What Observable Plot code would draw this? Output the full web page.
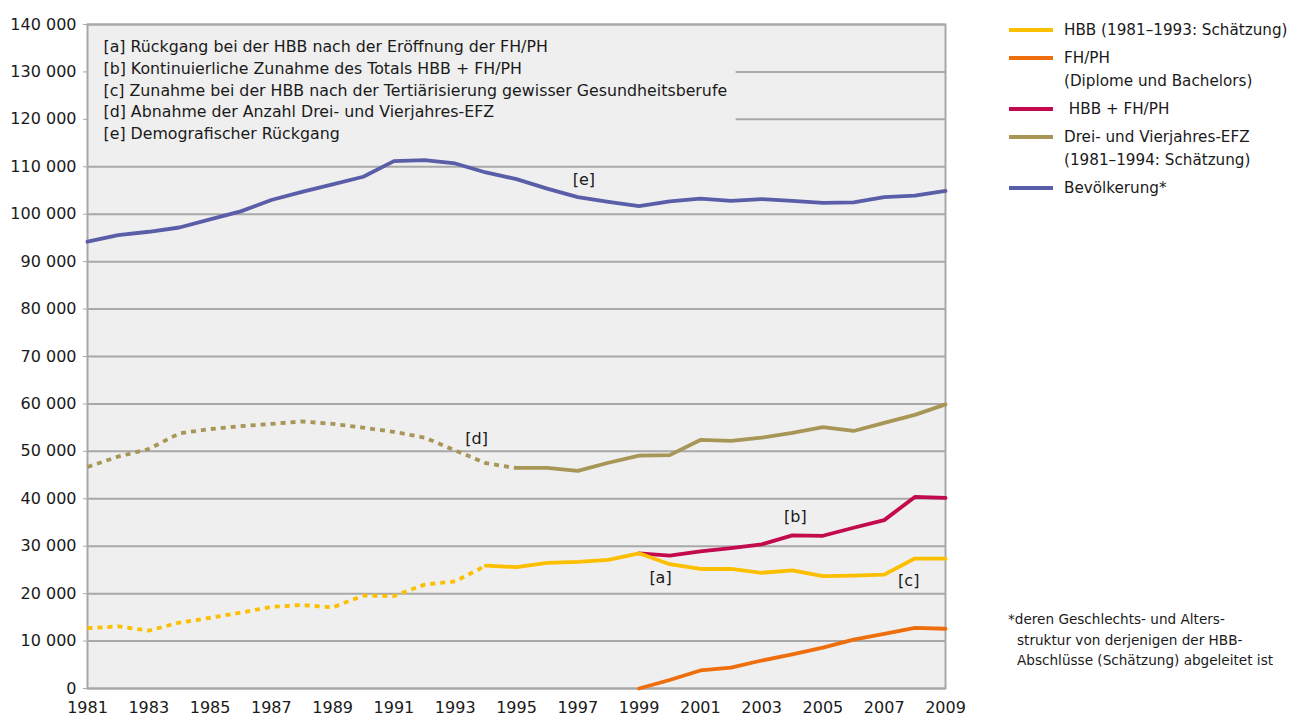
<!DOCTYPE html>
<html>
<head>
<meta charset="utf-8">
<script src="https://cdn.jsdelivr.net/npm/d3@7"></script>
<script src="https://cdn.jsdelivr.net/npm/@observablehq/plot@0.6"></script>
<style>
  html, body { margin: 0; padding: 0; background: #fff; }
  body { font-family: "DejaVu Sans", sans-serif; color: #1a1a1a; }
  #wrap { position: relative; width: 1304px; height: 720px; }
  #legend { position: absolute; left: 1009px; top: 19px; font-size: 15.2px; line-height: 23px; }
  .row { position: relative; padding-left: 55px; margin-bottom: 5px; white-space: nowrap; }
  .sw { position: absolute; left: 0; top: 9px; width: 44px; height: 4px; }
  #note { position: absolute; left: 1008px; top: 609px; font-size: 13.6px; line-height: 20.5px; white-space: nowrap; }
  #note .l { padding-left: 9px; }
</style>
</head>
<body>
<div id="wrap">
  <div id="chart"></div>
  <div id="legend"></div>
  <div id="note">*deren Geschlechts- und Alters-<div class="l">struktur von derjenigen der HBB-</div><div class="l">Abschlüsse (Schätzung) abgeleitet ist</div></div>
</div>
<script>
// ---- data ----
const years = [1981,1982,1983,1984,1985,1986,1987,1988,1989,1990,1991,1992,1993,1994,1995,1996,1997,1998,1999,2000,2001,2002,2003,2004,2005,2006,2007,2008,2009];
const hbb   = [12700,13100,12200,13900,14900,16000,17200,17600,17100,19600,19500,21900,22600,25900,25600,26500,26700,27100,28500,26200,25200,25200,24400,24900,23700,23800,24000,27400,27400];
const fhph  = [null,null,null,null,null,null,null,null,null,null,null,null,null,null,null,null,null,null,0,1800,3800,4400,5900,7200,8600,10300,11500,12800,12600];
const total = [null,null,null,null,null,null,null,null,null,null,null,null,null,null,null,null,null,null,28500,28000,28900,29600,30400,32300,32200,33900,35500,40400,40200];
const efz   = [46700,48900,50500,53800,54700,55300,55800,56300,55800,55000,54100,52900,50200,47500,46500,46500,45900,47600,49100,49200,52400,52200,52900,53900,55100,54300,56000,57700,59900];
const pop   = [94200,95600,96300,97200,98900,100600,103000,104700,106300,107900,111200,111400,110700,108800,107400,105400,103600,102600,101700,102700,103300,102800,103200,102800,102400,102500,103600,103900,104900];

const hbbEstimateEnd = 1994;
const efzEstimateEnd = 1995;

const seriesNames = ["HBB (1981–1993: Schätzung)", "FH/PH\n(Diplome und Bachelors)", " HBB + FH/PH", "Drei- und Vierjahres-EFZ\n(1981–1994: Schätzung)", "Bevölkerung*"];
const seriesColors = ["#fbbf00", "#ee6e0e", "#c20a4c", "#a89657", "#5a5ea8"];

const noteLines = [
  "[a] Rückgang bei der HBB nach der Eröffnung der FH/PH",
  "[b] Kontinuierliche Zunahme des Totals HBB + FH/PH",
  "[c] Zunahme bei der HBB nach der Tertiärisierung gewisser Gesundheitsberufe",
  "[d] Abnahme der Anzahl Drei- und Vierjahres-EFZ",
  "[e] Demografischer Rückgang"
];
const labelText = ["[a]", "[b]", "[c]", "[d]", "[e]"];
const labelYear = [1999.7, 2004.1, 2007.8, 1993.7, 1997.2];
const labelValue = [23300, 36100, 22700, 52700, 107200];

const yTicks = d3.range(0, 140001, 10000);
const xTicks = d3.range(1981, 2010, 2);
const boxYearEnd = 2002.2;
const boxValueBottom = 113200;

// ---- build ----
const rows = (vals, from, to) => years.map((y, i) => ({year: y, v: vals[i]}))
  .filter(d => d.v != null && d.year >= from && d.year <= to);

const fmt = v => d3.format(",")(v).replace(/,/g, " ");
const lw = 3.8;
const dash = "5,5";

const plot = Plot.plot({
  width: 1304, height: 720,
  marginLeft: 87, marginRight: 359, marginTop: 24, marginBottom: 32,
  style: {fontFamily: "DejaVu Sans, sans-serif", fontSize: "16px", color: "#1a1a1a", background: "#fff"},
  x: {domain: [1981, 2009], label: null},
  y: {domain: [0, 140000], label: null},
  marks: [
    Plot.frame({fill: "#efefef", stroke: null}),
    Plot.ruleY(yTicks, {stroke: "#a8a8a8", strokeWidth: 2}),
    Plot.rect([0], {x1: () => 1981, x2: () => boxYearEnd, y1: () => boxValueBottom, y2: () => 139600, fill: "#efefef", inset: 1}),
    Plot.frame({stroke: "#a8a8a8", strokeWidth: 2}),
    Plot.axisY({ticks: yTicks, tickFormat: fmt, tickSize: 4, tickPadding: 7, stroke: "#a8a8a8", fill: "#1a1a1a", fontSize: 16, label: null}),
    Plot.axisX({ticks: xTicks, tickFormat: d => String(d), tickSize: 0, tickPadding: 13, fill: "#1a1a1a", fontSize: 16, label: null}),
    Plot.text([noteLines.join("\n")], {frameAnchor: "top-left", textAnchor: "start", lineAnchor: "top", dx: 16, dy: 12, lineHeight: 1.38, fontSize: 15.8, fill: "#1a1a1a", text: d => d}),
    // Bevölkerung
    Plot.line(rows(pop, 1981, 2009), {x: "year", y: "v", stroke: seriesColors[4], strokeWidth: lw}),
    // EFZ
    Plot.line(rows(efz, 1981, efzEstimateEnd), {x: "year", y: "v", stroke: seriesColors[3], strokeWidth: lw, strokeDasharray: dash, strokeLinecap: "butt"}),
    Plot.line(rows(efz, efzEstimateEnd, 2009), {x: "year", y: "v", stroke: seriesColors[3], strokeWidth: lw}),
    // total
    Plot.line(rows(total, 1999, 2009), {x: "year", y: "v", stroke: seriesColors[2], strokeWidth: lw}),
    // HBB
    Plot.line(rows(hbb, 1981, hbbEstimateEnd), {x: "year", y: "v", stroke: seriesColors[0], strokeWidth: lw, strokeDasharray: dash, strokeLinecap: "butt"}),
    Plot.line(rows(hbb, hbbEstimateEnd, 2009), {x: "year", y: "v", stroke: seriesColors[0], strokeWidth: lw}),
    // FH/PH
    Plot.line(rows(fhph, 1999, 2009), {x: "year", y: "v", stroke: seriesColors[1], strokeWidth: lw}),
    Plot.text(labelText, {x: (d, i) => labelYear[i], y: (d, i) => labelValue[i], text: d => d, fontSize: 16, fill: "#1a1a1a"})
  ]
});
document.getElementById("chart").appendChild(plot);

const legend = document.getElementById("legend");
seriesNames.forEach((n, i) => {
  const r = document.createElement("div");
  r.className = "row";
  const s = document.createElement("div");
  s.className = "sw";
  s.style.background = seriesColors[i];
  r.appendChild(s);
  n.split("\n").forEach(line => {
    const t = document.createElement("div");
    t.textContent = line;
    t.style.whiteSpace = "pre";
    r.appendChild(t);
  });
  legend.appendChild(r);
});
</script>
</body>
</html>
